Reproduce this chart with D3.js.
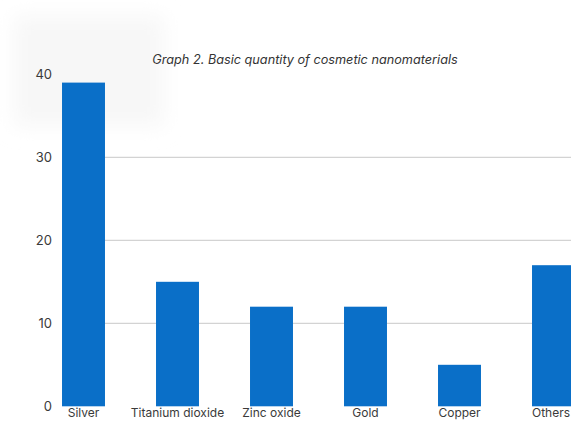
<!DOCTYPE html>
<html>
<head>
<meta charset="utf-8">
<script src="https://cdn.jsdelivr.net/npm/d3@7"></script>
<style>
  html, body { margin: 0; padding: 0; background: #ffffff; overflow: hidden; }
  svg { display: block; }
</style>
</head>
<body>
<script>
const categories = ["Silver", "Titanium dioxide", "Zinc oxide", "Gold", "Copper", "Others"];
const values = [39, 15, 12, 12, 5, 17];
const yTicks = [0, 10, 20, 30, 40];
const gridTicks = [10, 20, 30];
const title = "Graph 2. Basic quantity of cosmetic nanomaterials";

const W = 571, H = 423;
const svg = d3.select("body").append("svg").attr("width", W).attr("height", H);

// faint photo shading at top-left
const defs = svg.append("defs");
const f = defs.append("filter").attr("id", "blur").attr("x", "-50%").attr("y", "-50%").attr("width", "200%").attr("height", "200%");
f.append("feGaussianBlur").attr("stdDeviation", 10);
svg.append("rect").attr("x", 14).attr("y", 16).attr("width", 150).attr("height", 110)
  .attr("fill", "#f7f7f7").attr("filter", "url(#blur)");

const x = d3.scaleBand().domain(categories).range([36.5, 36.5 + 94 * 6])
  .paddingInner(0.543).paddingOuter(0.2715);
const y = d3.scaleLinear().domain([0, 40]).range([406.3, 74.3]);

// gridlines
svg.append("g").selectAll("line").data(gridTicks).join("line")
  .attr("x1", 62).attr("x2", W)
  .attr("y1", d => y(d)).attr("y2", d => y(d))
  .attr("stroke", "#c8c8c8").attr("stroke-width", 1);

// y axis labels
const yAxis = d3.axisLeft(y).tickValues(yTicks).tickSize(0).tickPadding(0);
const gy = svg.append("g").attr("transform", "translate(52,0)").call(yAxis);
gy.select(".domain").remove();
gy.selectAll("text").attr("font-family", "Inter, 'Noto Sans', sans-serif")
  .attr("font-size", 13).attr("fill", "#3a3a3a");

// bars
svg.append("g").selectAll("rect").data(values).join("rect")
  .attr("x", (d, i) => x(categories[i]))
  .attr("width", x.bandwidth())
  .attr("y", d => y(d))
  .attr("height", d => y(0) - y(d))
  .attr("fill", "#0a6fc8");

// x axis labels (last one anchored so it stays inside the view)
const xAxis = d3.axisBottom(x).tickSize(0).tickPadding(0);
const gx = svg.append("g").attr("transform", "translate(0,408)").call(xAxis);
gx.select(".domain").remove();
gx.selectAll("text").attr("font-family", "Inter, 'Noto Sans', sans-serif")
  .attr("font-size", 12).attr("fill", "#3a3a3a").attr("dy", "0.71em");
gx.selectAll(".tick").filter(d => d === "Others").select("text")
  .attr("text-anchor", "end").attr("x", W - 1 - x(categories[5]) - x.bandwidth() / 2);

// title
svg.append("text").attr("x", 305).attr("y", 64).attr("text-anchor", "middle")
  .attr("font-family", "Inter, 'Noto Sans', sans-serif").attr("font-style", "italic")
  .attr("font-size", 12.7).attr("fill", "#333333").text(title);
</script>
</body>
</html>
